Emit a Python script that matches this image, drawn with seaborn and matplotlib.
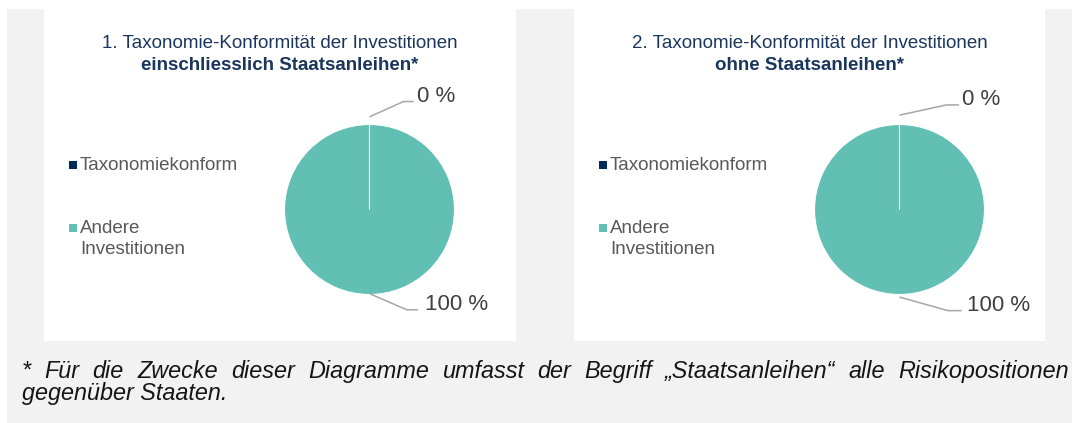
import matplotlib
matplotlib.use("Agg")
import matplotlib.pyplot as plt
from matplotlib.patches import Rectangle
import numpy as np
import seaborn as sns

# ---- data ----
categories = ["Taxonomiekonform", "Andere\nInvestitionen"]
shares_incl_sov = [0, 100]   # einschliesslich Staatsanleihen
shares_excl_sov = [0, 100]   # ohne Staatsanleihen
title_first = ["1. Taxonomie-Konformität der Investitionen",
               "2. Taxonomie-Konformität der Investitionen"]
title_second = ["einschliesslich Staatsanleihen*", "ohne Staatsanleihen*"]
footnote_1 = ("* Für die Zwecke dieser Diagramme umfasst der Begriff "
              "„Staatsanleihen“ alle Risikopositionen")
footnote_2 = "gegenüber Staaten."

sns.set_theme(style="white")
plt.rcParams["font.family"] = ["Liberation Sans", "DejaVu Sans"]

palette = sns.color_palette(["#002a5c", "#62bfb3"])
TITLE_C = "#1b365d"
LEGEND_C = "#595959"
LABEL_C = "#404040"
LEADER_C = "#a6a6a6"
BG = "#f2f2f2"

W, H = 1072, 423
fig = plt.figure(figsize=(W / 100, H / 100), dpi=100)


def fx(px):
    return px / W


def fy(py):  # pixel row measured from the top
    return 1 - py / H


# grey page with two white chart cards (kept behind the pie axes)
fig.patches.append(Rectangle((fx(7), 0), 1 - fx(7), fy(9), transform=fig.transFigure,
                             facecolor=BG, edgecolor="none", zorder=-3))
cards = [(44, 516), (574, 1045)]
for x0, x1 in cards:
    fig.patches.append(Rectangle((fx(x0), fy(341)), fx(x1 - x0), fy(9) - fy(341),
                                 transform=fig.transFigure, facecolor="white",
                                 edgecolor="none", zorder=-2))

# leader-line geometry per card: (start radius, bend dx, bend dy, end dx, text gap)
leaders = [
    [(1.09, 0.40, 0.18, 0.52, 0.04), (0.99, 0.44, 0.19, 0.57, 0.08)],
    [(1.11, 0.55, 0.12, 0.70, 0.03), (1.03, 0.57, 0.16, 0.73, 0.06)],
]

R_PX = 85
series = [shares_incl_sov, shares_excl_sov]
for k, (values, (x0, x1)) in enumerate(zip(series, cards)):
    cx = x0 + 325.5
    cy = 209.5
    # axes where one data unit equals the pie radius
    ax = fig.add_axes([fx(cx - 2 * R_PX), fy(cy + 2 * R_PX), fx(4 * R_PX), 4 * R_PX / H])
    wedges, _ = ax.pie(values, colors=palette, startangle=90, counterclock=False,
                       radius=1.0,
                       wedgeprops=dict(edgecolor="white", linewidth=0.8))
    for w, v in zip(wedges, values):
        if v == 0:
            w.set_zorder(5)
    ax.set_xlim(-2, 2)
    ax.set_ylim(-2, 2)
    ax.set_aspect("equal")
    ax.axis("off")

    # value labels with leader lines
    for w, v, geo in zip(wedges, values, leaders[k]):
        r0, bdx, bdy, edx, gap = geo
        mid = np.deg2rad((w.theta1 + w.theta2) / 2)
        sx, sy = r0 * np.cos(mid), r0 * np.sin(mid)
        sgn = 1 if np.sin(mid) >= 0 else -1
        bx, by = sx + bdx, sy + sgn * bdy
        ex = sx + edx
        ax.plot([sx, bx, ex], [sy, by, by], color=LEADER_C, lw=1.1,
                solid_capstyle="butt", clip_on=False, zorder=6)
        ax.text(ex + gap, by, f"{v:.0f} %", ha="left", va="baseline",
                fontsize=16, color=LABEL_C, clip_on=False)

    # titles
    tcx = (x0 + x1) / 2
    fig.text(fx(tcx), fy(48), title_first[k], ha="center", va="baseline",
             fontsize=13.5, color=TITLE_C)
    fig.text(fx(tcx), fy(70), title_second[k], ha="center", va="baseline",
             fontsize=13.5, color=TITLE_C, fontweight="bold")

    # legend
    base_rows = [170, 233]
    for c, label, base in zip(palette, categories, base_rows):
        fig.patches.append(Rectangle((fx(x0 + 25), fy(base - 1)), fx(7.5), 7.5 / H,
                                     transform=fig.transFigure, facecolor=c,
                                     edgecolor="none", zorder=3))
        for j, line in enumerate(label.split("\n")):
            fig.text(fx(x0 + 36), fy(base + 21 * j), line, ha="left", va="baseline",
                     fontsize=13.5, color=LEGEND_C)

# footnote: first line justified across the page, second line left-aligned
words = footnote_1.split(" ")
foot_kw = dict(fontsize=16.8, style="italic", color="#151515", va="baseline", ha="left")
word_texts = [fig.text(0, fy(378), w, **foot_kw) for w in words]
fig.canvas.draw()
renderer = fig.canvas.get_renderer()
widths = [t.get_window_extent(renderer).width for t in word_texts]
left, right = 22, 1069
gap = (right - left - sum(widths)) / (len(words) - 1)
xpos = left
for t, wdt in zip(word_texts, widths):
    t.set_x(fx(xpos))
    xpos += wdt + gap
fig.text(fx(22), fy(400), footnote_2, **foot_kw)

fig.savefig("out.png", dpi=100, facecolor="white")
